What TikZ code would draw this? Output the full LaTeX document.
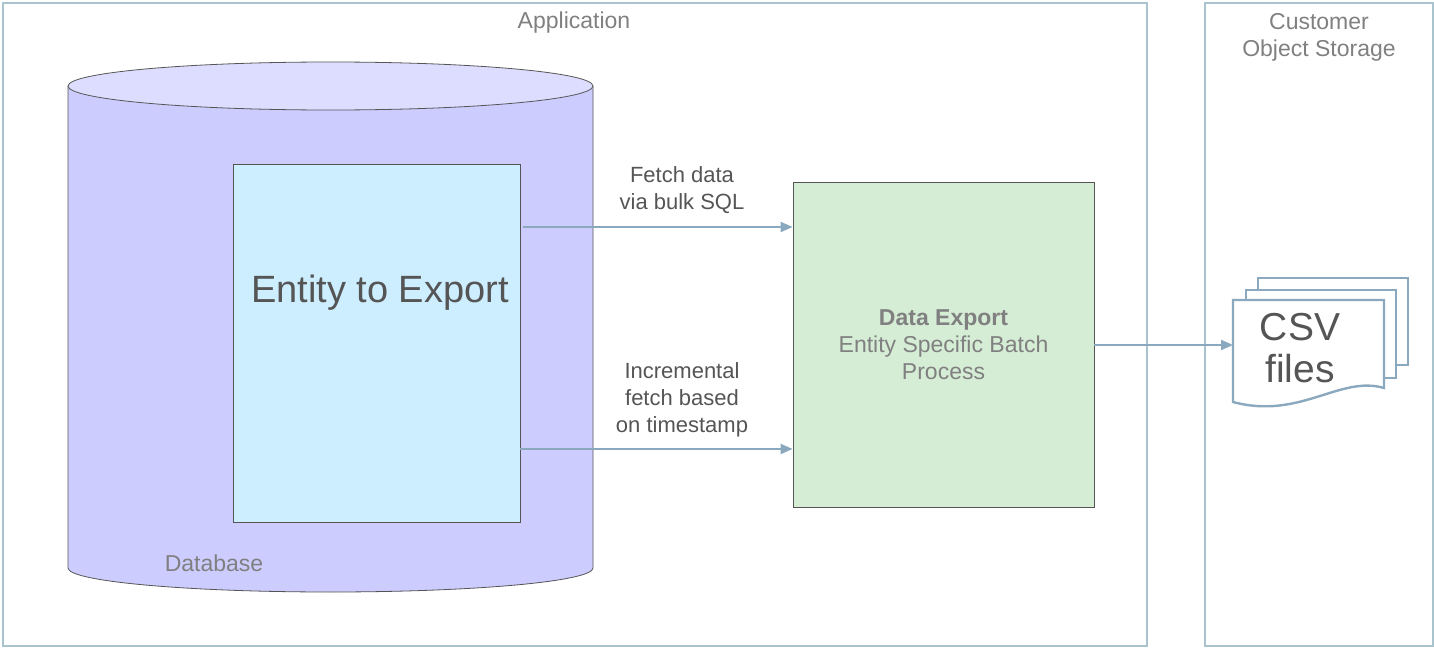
\documentclass[tikz,border=0pt]{standalone}
\usepackage{fontspec}
\setmainfont{Liberation Sans}
\usetikzlibrary{arrows.meta}
\definecolor{framec}{HTML}{A9C4CC}
\definecolor{arrowc}{HTML}{8AA9BF}
\definecolor{textc}{HTML}{555555}
\definecolor{greyt}{HTML}{808080}
\definecolor{dbfill}{HTML}{CCCCFF}
\definecolor{dbtop}{HTML}{DDDDFF}
\definecolor{entfill}{HTML}{CCEEFF}
\definecolor{expfill}{HTML}{D5ECD5}
\begin{document}
\begin{tikzpicture}[x=0.5pt,y=-0.5pt]
    \tikzstyle{frame}=[draw=framec,line width=1pt]
    \tikzstyle{title}=[text=greyt,font=\fontsize{11.5}{13.5}\selectfont,align=center]
    \tikzstyle{lbl}=[text=textc,font=\fontsize{11}{13.5}\selectfont,align=center]
    \tikzstyle{flow}=[draw=arrowc,line width=1pt,-{Triangle[length=6pt,width=5pt]}]
    \tikzstyle{doc}=[draw=arrowc,line width=1.2pt,fill=white]
    \useasboundingbox (0,0) rectangle (1434,648);
    % outer frames
    \draw [frame] (3,3) rectangle (1147,646);
    \draw [frame] (1205,3) rectangle (1433,646);
    \node (app) at (574,23) [title] {Application};
    \node (cust) at (1319,37) [title] {Customer\\Object Storage};
    % database cylinder
    \draw [fill=dbfill,draw=textc] (68,86) -- (68,568) arc [start angle=180,end angle=0,x radius=262.5,y radius=24] -- (593,86);
    \draw [fill=dbtop,draw=textc] (330.5,86) ellipse [x radius=262.5,y radius=24];
    \node (db) at (214,563) [title] {Database};
    % entity
    \draw [fill=entfill,draw=textc] (233,164) rectangle (520,522);
    \node (entity) at (380,293) [text=textc,font=\fontsize{19}{22}\selectfont] {Entity to Export};
    \coordinate (e1) at (523,227);
    \coordinate (e2) at (520,449);
    % batch process
    \node (export) at (943.5,344.5) [draw=textc,fill=expfill,minimum width=150.5pt,minimum height=162.5pt,
        text=greyt,font=\fontsize{11.5}{13.5}\selectfont,align=center]
        {\textbf{Data Export}\\Entity Specific Batch\\Process};
    \draw [flow] (e1) -- (e1 -| export.west);
    \draw [flow] (e2) -- (e2 -| export.west);
    \node (sql) at (682,190) [lbl] {Fetch data\\via bulk SQL};
    \node (inc) at (682,400) [lbl] {Incremental\\fetch based\\on timestamp};
    % csv files
    \draw [doc] (1258,278) rectangle (1408,365);
    \draw [doc] (1246,290) rectangle (1396,378);
    \draw [doc] (1233,300) -- (1384,300) -- (1384,388)
        .. controls (1340,375) and (1300,420) .. (1233,402) -- cycle;
    \coordinate (csv) at (1233,345);
    \node (files) at (1300,348) [text=textc,font=\fontsize{19.5}{21}\selectfont,align=center] {CSV\\files};
    \draw [flow] (export.east |- csv) -- (csv);
\end{tikzpicture}
\end{document}
